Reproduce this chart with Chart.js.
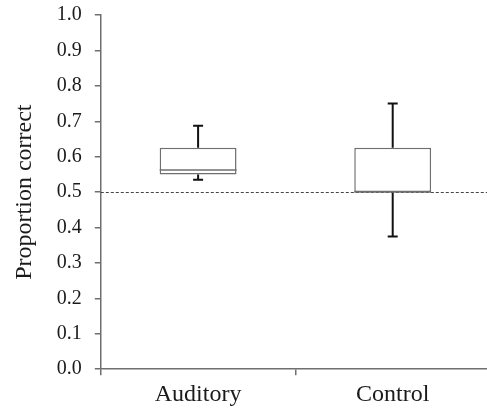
<!DOCTYPE html>
<html lang="en">
<head>
  <meta charset="UTF-8" />
  <title>Proportion correct</title>
  <script src="https://cdn.jsdelivr.net/npm/chart.js@4.4.0/dist/chart.umd.min.js"></script>
  <style>
    html, body { margin: 0; padding: 0; background: #fff; overflow: hidden; }
    #wrap { width: 490px; height: 408px; overflow: hidden; }
    #box { display: block; margin-top: -10px; }
  </style>
</head>
<body>
  <div id="wrap"><canvas id="box" width="490" height="424"></canvas></div>
  <script>
    // data
    const categories = ['Auditory', 'Control'];
    const minVals    = [0.535, 0.375];
    const q1Vals     = [0.55, 0.5];
    const medianVals = [0.5625, 0.5];
    const q3Vals     = [0.625, 0.625];
    const maxVals    = [0.6875, 0.75];
    const chanceLevel = 0.5;
    const yTicks = [0, 0.1, 0.2, 0.3, 0.4, 0.5, 0.6, 0.7, 0.8, 0.9, 1.0];

    const serif = "'Liberation Serif', 'Times New Roman', serif";
    const axisGray = '#6f6f6f';

    // dashed chance line behind the boxes, whiskers + medians on top
    const boxExtras = {
      id: 'boxExtras',
      beforeDatasetsDraw(chart) {
        const { ctx, chartArea, scales: { y } } = chart;
        const py = Math.round(y.getPixelForValue(chanceLevel)) + 0.5;
        ctx.save();
        ctx.strokeStyle = '#444';
        ctx.lineWidth = 1;
        ctx.setLineDash([3, 2]);
        ctx.beginPath();
        ctx.moveTo(chartArea.left, py);
        ctx.lineTo(chartArea.right, py);
        ctx.stroke();
        ctx.restore();
      },
      afterDatasetsDraw(chart) {
        const { ctx, scales: { x, y } } = chart;
        ctx.save();
        categories.forEach((c, i) => {
          const cx = x.getPixelForValue(i);
          const bar = chart.getDatasetMeta(0).data[i];
          const half = bar.width / 2;
          // whiskers
          ctx.strokeStyle = '#111';
          ctx.lineWidth = 2;
          const segs = [[q3Vals[i], maxVals[i]], [q1Vals[i], minVals[i]]];
          segs.forEach(([from, to]) => {
            const y0 = y.getPixelForValue(from);
            const y1 = y.getPixelForValue(to);
            ctx.beginPath();
            ctx.moveTo(cx, y0);
            ctx.lineTo(cx, y1);
            ctx.moveTo(cx - 5, y1);
            ctx.lineTo(cx + 5, y1);
            ctx.stroke();
          });
          // median
          ctx.strokeStyle = axisGray;
          ctx.lineWidth = 1.5;
          const my = y.getPixelForValue(medianVals[i]);
          ctx.beginPath();
          ctx.moveTo(cx - half, my);
          ctx.lineTo(cx + half, my);
          ctx.stroke();
        });
        ctx.restore();
      }
    };

    new Chart(document.getElementById('box').getContext('2d'), {
      type: 'bar',
      data: {
        labels: categories,
        datasets: [{
          data: categories.map((c, i) => [q1Vals[i], q3Vals[i]]),
          backgroundColor: '#fff',
          borderColor: axisGray,
          borderWidth: 1.5,
          borderSkipped: false,
          categoryPercentage: 1,
          barPercentage: 0.395
        }]
      },
      options: {
        responsive: false,
        animation: false,
        layout: { padding: { top: 4, left: 10, right: 0, bottom: 0 } },
        plugins: { legend: { display: false }, tooltip: { enabled: false } },
        scales: {
          x: {
            grid: { drawOnChartArea: false, tickLength: 6, color: axisGray, lineWidth: 1.5 },
            border: { color: axisGray, width: 1.5 },
            ticks: { color: '#1a1a1a', padding: 5, font: { family: serif, size: 24 } }
          },
          y: {
            min: 0,
            max: 1,
            afterBuildTicks(axis) { axis.ticks = yTicks.map(v => ({ value: v })); },
            grid: { drawOnChartArea: false, tickLength: 6, color: axisGray, lineWidth: 1.5 },
            border: { color: axisGray, width: 1.5 },
            ticks: {
              color: '#1a1a1a',
              padding: 13,
              font: { family: serif, size: 20 },
              callback: v => v.toFixed(1)
            },
            title: {
              display: true,
              text: 'Proportion correct',
              color: '#1a1a1a',
              padding: { top: 0, bottom: 5 },
              font: { family: serif, size: 24 }
            }
          }
        }
      },
      plugins: [boxExtras]
    });
  </script>
</body>
</html>
